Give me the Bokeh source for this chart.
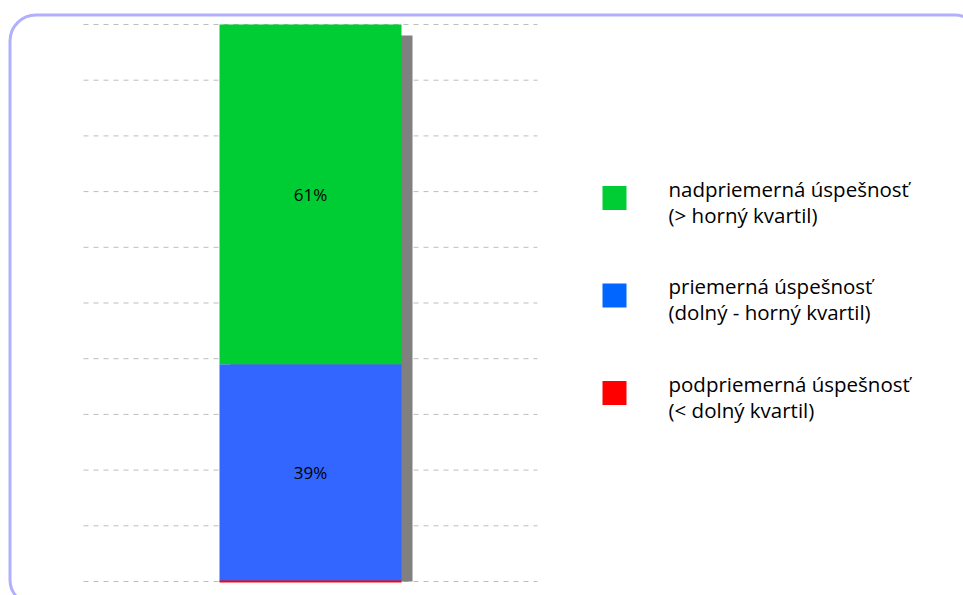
from bokeh.plotting import figure
from bokeh.models import Range1d, BoxAnnotation, ColumnDataSource
from bokeh.core.properties import value
from bokeh.embed import file_html
from bokeh.resources import INLINE

# ---- data ----
categories = ["nadpriemerná úspešnosť", "priemerná úspešnosť", "podpriemerná úspešnosť"]
sublabels = ["(> horný kvartil)", "(dolný - horný kvartil)", "(< dolný kvartil)"]
shares = [61, 39, 0]
bar_colors = ["#00cc33", "#3366ff", "#ff0000"]
legend_colors = ["#00cc33", "#0066ff", "#ff0000"]
grid_ticks = list(range(0, 101, 10))

# ---- layout (pixels) ----
W, H = 963, 595
PX = 5.57              # pixels per percentage point
ZERO_Y = 581           # canvas y of 0 %
FONT = "Open Sans"

def ydata(canvas_y):
    return (ZERO_Y - canvas_y) / PX

p = figure(width=W, height=H, output_backend="svg", toolbar_location=None,
           x_range=Range1d(0, W), y_range=Range1d(ydata(H), ydata(0)),
           min_border=0, min_border_left=0, min_border_right=0,
           min_border_top=0, min_border_bottom=0)
p.axis.visible = False
p.grid.visible = False
p.outline_line_color = None
p.background_fill_color = "white"
p.border_fill_color = "white"

# dashed grid lines
p.segment(x0=83, x1=537, y0=grid_ticks, y1=grid_ticks,
          line_color="#bdbdbd", line_width=1, line_dash="5 5")

# stacked bar (bottom-up: red, blue, green)
order = [2, 1, 0]
bottoms, tops, cols = [], [], []
acc = 0
for i in order:
    bottoms.append(acc)
    acc += shares[i]
    tops.append(acc)
    cols.append(bar_colors[i])
total = acc

BAR_L, BAR_R, OFF = 219, 401, 11
# shadow
p.quad(left=BAR_L + OFF, right=BAR_R + OFF, bottom=0, top=total - OFF / PX,
       fill_color="#808080", line_color=None)
src = ColumnDataSource(dict(bottom=bottoms, top=tops, color=cols))
p.quad(left=BAR_L, right=BAR_R, bottom="bottom", top="top", source=src,
       fill_color="color", line_color=None)
# zero-height segment drawn as line
for b, t, c in zip(bottoms, tops, cols):
    if t == b:
        p.segment(x0=BAR_L, x1=BAR_R, y0=b, y1=t, line_color=c, line_width=2)

# value labels
lx, ly, lt = [], [], []
for b, t in zip(bottoms, tops):
    if t > b:
        lx.append((BAR_L + BAR_R) / 2)
        ly.append((b + t) / 2)
        lt.append(f"{round(t - b)}%")
p.text(x=lx, y=ly, text=lt, text_align="center", text_baseline="middle",
       text_font=value(FONT), text_font_size="17px", text_color="black")

# legend
SQ_X = 614
TX_X = 668
for k in range(3):
    cy = 197.5 + k * 97.5
    p.scatter(x=[SQ_X], y=[ydata(cy)], marker="square", size=24,
              fill_color=legend_colors[k], line_color=None)
    p.text(x=[TX_X], y=[ydata(cy - 9.5)], text=[categories[k]],
           text_baseline="middle", text_font=value(FONT),
           text_font_size="20.5px", text_color="black")
    p.text(x=[TX_X], y=[ydata(cy + 16.5)], text=[sublabels[k]],
           text_baseline="middle", text_font=value(FONT),
           text_font_size="20.5px", text_color="black")

# rounded frame
box = BoxAnnotation(left=9.5, right=980, top=ydata(14.5), bottom=ydata(605),
                    fill_alpha=0, line_color="#b0b0ff", line_alpha=1.0,
                    line_width=3, border_radius=26)
p.add_layout(box)

open("out.html", "w").write(file_html(p, INLINE))
